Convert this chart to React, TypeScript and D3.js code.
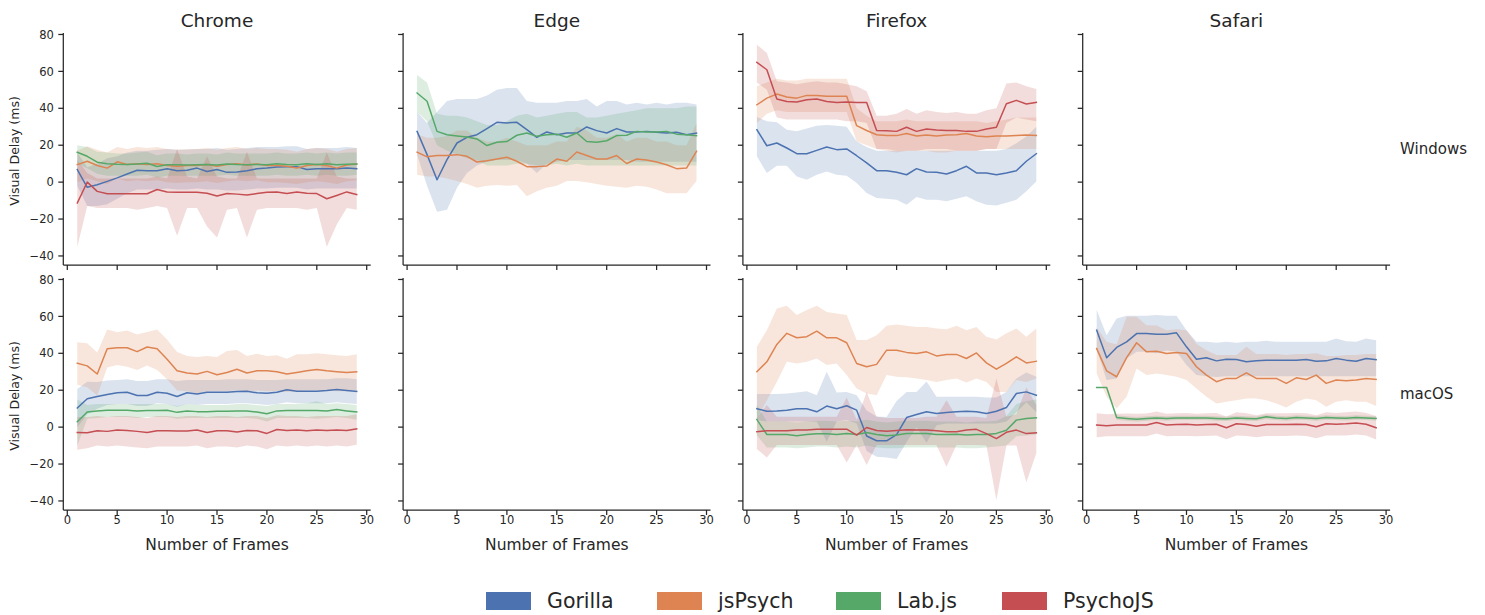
import React from "react";
import * as d3 from "d3";

// ---------------- data ----------------
const frames = [1,2,3,4,5,6,7,8,9,10,11,12,13,14,15,16,17,18,19,20,21,22,23,24,25,26,27,28,29];
const browsers = ["Chrome", "Edge", "Firefox", "Safari"];
const systems = ["Windows", "macOS"];
const frameworks = ["Gorilla", "jsPsych", "Lab.js", "PsychoJS"];
const palette = ["#4C72B0", "#DD8452", "#55A868", "#C44E52"];
const yTicks = [-40, -20, 0, 20, 40, 60, 80];
const xTicks = [0, 5, 10, 15, 20, 25, 30];

// Chrome / Windows
const chromeWinGorilla = [6.8,-2.8,-1.4,0.4,2.3,4.4,6.4,6.2,6.2,7.3,6.2,6.4,7.6,5.8,6.8,5.3,5.5,6.2,7.2,7.6,8.2,8.4,8.4,6.8,7.3,7.3,7.2,7.6,7.3];
const chromeWinGorillaLo = [-2,-13,-13,-12,-9,-6,-4,-4,-4,-3.5,-4,-4,-3.5,-4,-4,-4.5,-4.5,-4,-3.5,-3.5,-3,-3,-3,-4,-3.5,-3.5,-3.5,-3.5,-3.5];
const chromeWinGorillaHi = [16,8,10,13,14,16,17,17,17.5,18,17.5,17.5,18,18,18.5,17.5,18,18.5,19,19,19,19.5,19.5,18,18.5,18.5,18.5,19,18.5];
const chromeWinJsPsych = [9.5,11.3,9,7.6,11,9.5,10,9.5,10,9,8.6,9,9,9.5,8.6,9.5,10,9.3,9.8,9,9,8.6,7.6,9,9.5,9,7.6,9.3,9.8];
const chromeWinJsPsychLo = [0,2,0.5,-1,2,0.5,1,0.5,1,0,-0.5,0,0,0.5,-0.5,0.5,1,0.5,1,0,0,-0.5,-1,0,0.5,0,-1,0.5,1];
const chromeWinJsPsychHi = [17,19.5,17.5,16,19,18,19,18.5,19,18,17.5,18,18,18.5,17.5,18.5,19,18,18.5,18,18,17.5,16.5,18,18.5,18,16.5,18,18.5];
const chromeWinLabjs = [16.2,14,10.8,10,9.7,9.6,9.8,10.2,8.5,9.4,9.4,9.3,9.4,9.5,9.3,9.8,9.5,9.4,9.6,9.4,10,9.5,9.4,10,9.5,10,9.4,9.7,9.8];
const chromeWinLabjsLo = [10,7.5,4.5,3.5,3.5,3.5,3.5,4,2.5,3.5,3.5,3.5,3.5,3.5,3.5,4,3.5,3.5,3.5,3.5,4,3.5,3.5,4,3.5,4,3.5,3.5,4];
const chromeWinLabjsHi = [20,19,16.5,16,15.5,15.5,16,16.5,14.5,15.5,15.5,15,15.5,15.5,15,16,15.5,15.5,15.5,15.5,16,15.5,15.5,16,15.5,16,15.5,16,16];
const chromeWinPsychojs = [-11.3,0,-5,-6.3,-6.3,-6.3,-6.3,-6.3,-4,-5.3,-5.5,-5.5,-5.5,-6,-7.5,-6.2,-6.5,-7,-6.2,-5.5,-5.3,-6.2,-5.3,-6,-6.2,-9,-7.2,-5.3,-6.7];
const chromeWinPsychojsLo = [-35,-13,-14,-14,-14,-14,-15,-14,-13,-14,-29,-14,-14,-24,-30,-15,-14,-30,-15,-14,-14,-14,-14,-15,-14,-35,-23,-14,-15];
const chromeWinPsychojsHi = [12,5,2,2,2,2,2,2,3,2,18,3,2,14,3,2,2,16.5,2,2,2,2,2,2,2,16,3,2,2];

// Edge / Windows
const edgeWinGorilla = [27.5,14.9,1.3,12.2,21.2,24.3,25.7,29,32.4,32.1,32.4,28.4,24.3,27.2,25.7,26.6,26.6,29.9,27.9,26.6,29,27.2,27.2,27.5,27,26.6,27,25.7,26.6];
const edgeWinGorillaLo = [15,-2,-16,-15,-3,5,9,11,12,12,12,10,5,10,11,12,12,12,12,12,12,12,11,11,11,11,11,11,11];
const edgeWinGorillaHi = [38,32,38,44,45,45,45,47,50,51,51,44,43,43,43,44,44,45,41,44,44,42,43,42,43,42,43,43,42];
const edgeWinJsPsych = [16.2,13.7,14.4,14.4,14.9,14,10.9,11.6,12.5,13.5,11.3,8.4,8.4,8.8,12.5,11.3,16.3,14.4,12.5,12.5,14.4,10.1,12.5,12,10.9,9.4,7.3,7.6,16.7];
const edgeWinJsPsychLo = [4,3,3,2,0.6,-1,-3,-2,-1.5,-2,-1.5,-7.7,-5,-3,-2,0.6,0.6,0,-1,-2,-2.5,-3,-2,-2.5,-4,-6,-6,-6,0.6];
const edgeWinJsPsychHi = [26,24,24,25,28,28,24,22,22,24,22,20,20,20,22,22,30,28,24,24,26,22,24,24,22,22,20,20,32];
const edgeWinLabjs = [48.3,43.8,27.5,25.7,25,24.4,23.4,19.8,21.6,22,25.4,26.6,24.8,25.7,26,24.3,26.6,22,21.6,22.4,25.2,25.4,27.5,27.2,27.2,27.5,26,25.7,25.2];
const edgeWinLabjsLo = [38,33,20,17,15,13,12,9,9,9,10,10,9,9,10,9,10,9,9,9,9,9,9,9,9,9,9,9,9];
const edgeWinLabjsHi = [58,54,37,36,36,35,33,31,31,33,36,37,35,36,37,38,38,35,35,36,37,38,39,40,40,40,40,41,41];

// Firefox / Windows
const firefoxWinGorilla = [28.4,19.7,21.2,18.5,15.4,15.4,17.2,19,17.6,18,14.3,10.4,6.2,6.2,5.3,4,7.3,5.5,5.3,4.4,6.2,8.6,5,5,4,5,6.2,11.3,15.4];
const firefoxWinGorillaLo = [14,4.9,8.9,8.9,3.1,1.3,4,5.8,4,3.5,-0.5,-5.9,-8.6,-9,-9.5,-12.3,-8,-9.5,-9.5,-10.4,-9,-7.7,-10.4,-12.3,-12.7,-11.2,-9.5,-5,0.4];
const firefoxWinGorillaHi = [35.3,33,32.5,28.4,27.5,29,30.5,31,30.5,30,22,19,17,17,17,17,17,17,17,17,17,17,17,17,17,18,21,24.7,30];
const firefoxWinJsPsych = [41.9,45.5,47.7,46.1,45.5,47,47,46.5,46.5,46.5,30.6,28,25.7,25.2,25.2,26.3,25,25.5,25,25.5,25.7,26.3,25,24.6,25,25,25.2,25.5,25.3];
const firefoxWinJsPsychLo = [32,37,39,38,38,38,38,38,38,38,22,20,18,17,16,17,17,17,16,16,17,17,17,18,18,18,18,18,18];
const firefoxWinJsPsychHi = [52,54,56,55,55,56,56,56,56,56,40,36,33,33,33,34,33,33,33,33,33,33,33,32,33,34,35,35,35];
const firefoxWinPsychojs = [64.9,60.9,45,43.7,43.4,44.6,45,43.7,43.2,43.4,43.2,43.2,28,27.8,27.5,29.7,27.5,28.8,28.2,28,28,27.5,27.5,28.8,29.7,42.5,44.3,42.3,43.2];
const firefoxWinPsychojsLo = [54,50,35,34,34,34,34,34,34,33,33,32,18,18,17,17,17,18,18,18,17,17,17,18,18,32,35,34,33];
const firefoxWinPsychojsHi = [74.5,70,54.6,54,53,54,54.6,54,54,53,52,49.2,36,36,37,39.6,37,39,38,37.5,38,37,37,39,40,53.4,54,52,50.5];

// Chrome / macOS
const chromeMacGorilla = [10.4,15.4,16.6,17.7,18.6,18.9,17.1,17.1,18.9,18.4,16.6,18.6,18,18.9,18.9,18.9,19.3,19.5,18.6,18.4,18.9,20.2,19.5,19.5,19.5,19.8,20.4,19.8,19.3];
const chromeMacGorillaLo = [0,7,10,12,12.5,12.5,11.5,11.5,13,12.5,11,12.5,12,12.5,12.5,12.5,13,13,12.5,12,12.5,13.5,13,13,13,13,13.5,13,12.5];
const chromeMacGorillaHi = [20.7,24.6,24.5,25.2,25.5,26,25,25,26,26,25,25.5,25.5,25.5,25.5,26,26,26,25.5,25.5,25.5,26,26,26,26,26,26.5,26.5,26];
const chromeMacJsPsych = [34.6,33.2,28.8,42.5,43,43,40.9,43.4,42.5,36.8,30.5,29.3,28.8,30.2,28.4,29.6,31.4,29.3,30.5,30.5,30,28.8,29.6,30.5,31.2,30.5,30,29.6,30];
const chromeMacJsPsychLo = [22.9,21.6,17.1,32.3,33.6,32.7,31,33.4,31,26,19.8,19.5,18.4,19.5,19.5,19.5,20,19.5,19.8,19.5,19.5,19,19.5,19.8,20,19.8,19.5,19.5,19.8];
const chromeMacJsPsychHi = [46,45.4,40.4,52.9,51.4,52.3,50.2,51.6,52.9,47.5,40.7,38.6,38,38.6,38,41.3,41.8,38.6,39.8,38.6,39,37,39.5,39.5,40,39.5,39,38.6,39.5];
const chromeMacLabjs = [2.9,8.2,8.8,9.1,9.1,9.1,8.8,9,9,9.1,8,8.8,8.4,8.4,8.6,8.6,8.8,8.8,8.2,7.3,8.8,9,9,9,9,8.8,9.5,8.8,8.2];
const chromeMacLabjsLo = [-10,4.5,5,5.5,5.5,5.5,5,5.5,5.5,5.5,4.5,5,5,5,5,5,5,5,4.5,3,5,5,5,5,4.5,5,5.5,5,4];
const chromeMacLabjsHi = [15,12,12.5,12.5,12.5,12.5,12.5,12.5,12.5,12.5,11.5,12.5,12,12,12,12,12.5,12.5,12,11.5,12.5,12.5,12.5,13,14,12.5,13,12.5,12];
const chromeMacPsychojs = [-2.9,-3,-2,-2.3,-1.6,-1.8,-2.3,-2.9,-2,-2,-2.1,-2.1,-1.6,-2.9,-2,-2,-2.7,-1.8,-2,-3.4,-1.3,-1.8,-1.6,-2,-1.6,-1.8,-1.6,-1.8,-0.9];
const chromeMacPsychojsLo = [-12.3,-11.5,-10,-10.5,-10,-10.5,-11,-11.5,-10.5,-10.5,-10.5,-10.5,-10,-11.5,-10.5,-10.5,-11,-10,-10.5,-12,-10,-10.5,-10,-10.5,-10,-10.5,-10,-10.5,-9.5];
const chromeMacPsychojsHi = [5.5,5.5,6,5.5,6,6,5.5,5,6,6,5.5,6,6,5.5,6,6,5.5,6,6,5,6.5,6,6,5.5,6,6,6,6,7];

// Firefox / macOS
const firefoxMacGorilla = [10,8.6,8.8,9.2,10,10,8.3,11.4,10,11.6,9.2,-4.8,-7.4,-7.4,-4,5.2,6.8,8.3,7.4,7.9,8.3,8.6,8.3,7.4,8.6,10.6,18.2,19.1,17.3];
const firefoxMacGorillaLo = [3.8,3,3,3,3,3,3,-7.9,3,3.8,2,-13,-16,-16.5,-17.3,-8,0,-8.5,1,2,2,2,2,2,2,3,8,13.5,8];
const firefoxMacGorillaHi = [17.9,17.9,17.9,18.2,18.8,19.5,17.3,30,18.8,19.1,17.3,9,5.7,5.5,14.1,19.1,19.1,24.7,16.4,16.4,16.4,16.4,16.4,16,16,19.1,26.4,29.6,27.3];
const firefoxMacJsPsych = [30,35.4,44.8,50.8,48.4,49,52,48.4,48.4,45.7,34.5,32.7,34,41.7,41.7,40.5,39.9,40.8,38.6,39.4,39.4,37.2,40.2,34.8,31.4,34.5,38.1,34.8,35.7];
const firefoxMacJsPsychLo = [4.6,14.6,24.5,35.4,34.5,35.4,37.2,33.6,34.5,28.2,20.9,18.2,17.3,28.2,27.3,27,26.4,25.5,24.5,25.5,26.4,24.2,26.4,24.5,19.1,19.1,25.5,24.5,26.4];
const firefoxMacJsPsychHi = [43.5,52.5,64.3,65.7,60.7,63.4,65.7,62.4,61.5,60.7,47.2,47.2,49.8,54.9,55.6,54.9,54.3,54.3,53.4,53,54.9,52.5,54.3,49,47.5,50.8,53.4,49,53.4];
const firefoxMacLabjs = [4.1,-4,-4,-4,-4.7,-4,-3.6,-3.6,-4,-3.4,-4,-2.9,-4,-4.7,-4.3,-3.4,-3.4,-3.4,-4,-4,-3.8,-4.3,-4,-4,-3.4,-1.7,3.8,4.7,5];
const firefoxMacLabjsLo = [-4.4,-11,-11,-11,-11.5,-11,-10.5,-10.5,-11,-10.5,-11,-10,-11,-11.5,-11.5,-11,-11,-11,-11,-11,-11,-11.5,-11.5,-11,-10.5,-10,-5,-4.5,-4];
const firefoxMacLabjsHi = [12,3,3,3,2.5,3,3.5,3.5,3,3.5,3,4,3,2.5,3,3.5,3.5,3.5,3,3,3,2.5,3,3,3.5,6,12.5,14,15];
const firefoxMacPsychojs = [-2.5,-2,-2,-2,-1.6,-1.6,-1.2,-1.2,-1.2,-1.1,-4.3,-0.2,-1.8,-2.2,-1.8,-1.4,-1.6,-1.6,-2,-2.5,-2.5,-1.6,-1.2,-3.5,-6.2,-2.8,-1.6,-3.5,-3.1];
const firefoxMacPsychojsLo = [-11.8,-16.5,-9.7,-9.7,-9.7,-9.7,-9.7,-9.7,-9.7,-19.1,-9.7,-20.5,-9.7,-9.7,-9.7,-9.7,-9.7,-9.7,-9.7,-21.5,-9.7,-9.7,-9.7,-10,-39.5,-10,-10,-29.8,-14.2];
const firefoxMacPsychojsHi = [5,12,5.6,5.6,5.6,5.6,5.6,5.6,5.6,16,4,19,5.6,5,5,5,5,5.6,5.6,14.5,5.6,5.6,5.6,5,26.4,5.6,7,21.5,12];

// Safari / macOS
const safariMacGorilla = [52.5,37.6,43.2,46.2,50.7,50.7,50.3,50.3,51.1,43.5,36.8,37.6,35.9,36.8,36.6,35.4,35.9,36.3,36.3,36.3,36.3,36.6,35.7,35.9,37.2,36.3,35.7,37.2,36.6];
const safariMacGorillaLo = [42,25.5,26.4,37.2,40.8,40.8,40,41.5,40.8,33.6,28.2,27.6,27.2,27.5,27.5,27.5,27.5,27.5,27.5,27.5,27.5,27.5,27.5,27.5,27.5,27.5,27.5,27.5,27.5];
const safariMacGorillaHi = [63.4,49.8,58.9,60.3,60.3,60.3,60.7,60.3,60.3,52.5,46.2,46.2,45.7,46.2,45.7,46.2,46.2,46.8,46.2,46.2,46.2,46.2,46.2,46.2,48,46.5,46.2,48,47.1];
const safariMacJsPsych = [42.6,30.5,27.3,37.7,45.7,40.8,41.1,39.9,40.4,39.9,32.7,28.2,24.6,26.4,26.4,29.4,26.4,26.4,26.4,23.7,26.7,25.8,28.2,23.7,25.5,25.1,25.5,26.4,25.8];
const safariMacJsPsychLo = [29.1,16.4,10.1,16.4,31.8,28.2,29,28.2,27.3,25.5,20.9,16.4,12.8,13.7,14.6,15.5,15.5,14.6,12.8,10.7,13.7,15.5,14.6,11.1,13.7,14.6,13.7,13.7,11.4];
const safariMacJsPsychHi = [54,46.2,44.8,59.8,59.8,55.2,55,52.5,53,52.5,45,41.7,39.1,39.1,39.1,43.5,39.6,39.6,39.6,39.1,39.6,39.6,40,38.6,38.6,39.1,39.1,39.6,39.6];
const safariMacLabjs = [21.5,21.5,5.2,4.7,4.3,4.7,5,4.7,5,5,5,5,4.7,4.5,5,4.7,4.5,5.6,5,4.7,5.2,5,4.7,5.2,5,4.8,5.2,5,4.7];
const safariMacLabjsLo = [21.5,21.5,4,3.5,3,3.5,3.8,3.5,3.8,3.8,3.8,3.8,3.5,3.3,3.8,3.5,3.3,4.4,3.8,3.5,4,3.8,3.5,4,3.8,3.6,4,3.8,3.5];
const safariMacLabjsHi = [21.5,21.5,6.4,5.9,5.5,5.9,6.2,5.9,6.2,6.2,6.2,6.2,5.9,5.7,6.2,5.9,5.7,6.8,6.2,5.9,6.4,6.2,5.9,6.4,6.2,6,6.4,6.2,5.9];
const safariMacPsychojs = [1.1,0.8,1.1,1.2,1.1,1.2,2.5,1.1,1.4,1.6,1.1,1.4,1.6,-0.3,1.8,1.4,0.5,1.4,1.4,1.4,1.6,1.4,0.2,1.8,1.6,1.8,2.3,1.6,-0.3];
const safariMacPsychojsLo = [-5.5,-5,-5,-5,-5,-5,-3.5,-5,-4.8,-4.8,-5,-4.8,-4.6,-6.5,-4.5,-4.8,-5.5,-4.8,-4.8,-4.8,-4.6,-4.8,-6,-4.5,-4.6,-4.5,-4,-4.6,-6.7];
const safariMacPsychojsHi = [7.5,7,7.3,7.4,7.2,7.4,8.5,7.2,7.5,7.6,7.2,7.5,7.7,5.8,8,7.5,6.5,7.5,7.5,7.5,7.7,7.5,6.4,8,7.7,8,8.5,7.7,6];

type Series = { fw: number; mean: number[]; lo: number[]; hi: number[] };
type Panel = { col: number; row: number; series: Series[] };

const panels: Panel[] = [
  { col: 0, row: 0, series: [
    { fw: 0, mean: chromeWinGorilla, lo: chromeWinGorillaLo, hi: chromeWinGorillaHi },
    { fw: 1, mean: chromeWinJsPsych, lo: chromeWinJsPsychLo, hi: chromeWinJsPsychHi },
    { fw: 2, mean: chromeWinLabjs, lo: chromeWinLabjsLo, hi: chromeWinLabjsHi },
    { fw: 3, mean: chromeWinPsychojs, lo: chromeWinPsychojsLo, hi: chromeWinPsychojsHi },
  ]},
  { col: 1, row: 0, series: [
    { fw: 0, mean: edgeWinGorilla, lo: edgeWinGorillaLo, hi: edgeWinGorillaHi },
    { fw: 1, mean: edgeWinJsPsych, lo: edgeWinJsPsychLo, hi: edgeWinJsPsychHi },
    { fw: 2, mean: edgeWinLabjs, lo: edgeWinLabjsLo, hi: edgeWinLabjsHi },
  ]},
  { col: 2, row: 0, series: [
    { fw: 0, mean: firefoxWinGorilla, lo: firefoxWinGorillaLo, hi: firefoxWinGorillaHi },
    { fw: 1, mean: firefoxWinJsPsych, lo: firefoxWinJsPsychLo, hi: firefoxWinJsPsychHi },
    { fw: 3, mean: firefoxWinPsychojs, lo: firefoxWinPsychojsLo, hi: firefoxWinPsychojsHi },
  ]},
  { col: 3, row: 0, series: [] },
  { col: 0, row: 1, series: [
    { fw: 0, mean: chromeMacGorilla, lo: chromeMacGorillaLo, hi: chromeMacGorillaHi },
    { fw: 1, mean: chromeMacJsPsych, lo: chromeMacJsPsychLo, hi: chromeMacJsPsychHi },
    { fw: 2, mean: chromeMacLabjs, lo: chromeMacLabjsLo, hi: chromeMacLabjsHi },
    { fw: 3, mean: chromeMacPsychojs, lo: chromeMacPsychojsLo, hi: chromeMacPsychojsHi },
  ]},
  { col: 1, row: 1, series: [] },
  { col: 2, row: 1, series: [
    { fw: 0, mean: firefoxMacGorilla, lo: firefoxMacGorillaLo, hi: firefoxMacGorillaHi },
    { fw: 1, mean: firefoxMacJsPsych, lo: firefoxMacJsPsychLo, hi: firefoxMacJsPsychHi },
    { fw: 2, mean: firefoxMacLabjs, lo: firefoxMacLabjsLo, hi: firefoxMacLabjsHi },
    { fw: 3, mean: firefoxMacPsychojs, lo: firefoxMacPsychojsLo, hi: firefoxMacPsychojsHi },
  ]},
  { col: 3, row: 1, series: [
    { fw: 0, mean: safariMacGorilla, lo: safariMacGorillaLo, hi: safariMacGorillaHi },
    { fw: 1, mean: safariMacJsPsych, lo: safariMacJsPsychLo, hi: safariMacJsPsychHi },
    { fw: 2, mean: safariMacLabjs, lo: safariMacLabjsLo, hi: safariMacLabjsHi },
    { fw: 3, mean: safariMacPsychojs, lo: safariMacPsychojsLo, hi: safariMacPsychojsHi },
  ]},
];

// ---------------- layout ----------------
const W = 1485;
const H = 615;
const FONT = "'DejaVu Sans', 'Liberation Sans', sans-serif";
const INK = "#262626";
const plotW = 307.4;
const plotH = 232;
const col0 = 63.3;
const colStep = 339.8;
const row0 = 33;
const rowStep = 245;
const tickLen = 5;
const legendX = [486, 657, 836, 1002];

function PanelView({ p }: { p: Panel }) {
  const left = col0 + p.col * colStep;
  const top = row0 + p.row * rowStep;
  const x = d3.scaleLinear().domain([-0.4, 30.4]).range([left, left + plotW]);
  const y = d3.scaleLinear().domain([-44.9, 80.8]).range([top + plotH, top]);
  const bottom = top + plotH;

  const area = (s: Series) =>
    d3.area<number>()
      .x((_, i) => x(frames[i]))
      .y0((_, i) => y(s.lo[i]))
      .y1((_, i) => y(s.hi[i]))(s.mean) || "";
  const line = (s: Series) =>
    d3.line<number>()
      .x((_, i) => x(frames[i]))
      .y((v) => y(v))(s.mean) || "";

  return (
    <g>
      {p.series.map((s) => (
        <path key={"a" + s.fw} d={area(s)} fill={palette[s.fw]} fillOpacity={0.2} stroke="none" />
      ))}
      {p.series.map((s) => (
        <path key={"l" + s.fw} d={line(s)} fill="none" stroke={palette[s.fw]} strokeWidth={1.5} strokeLinejoin="round" strokeLinecap="square" />
      ))}
      {/* spines */}
      <line x1={left} x2={left} y1={top} y2={bottom} stroke={INK} strokeWidth={1.25} />
      <line x1={left} x2={left + plotW} y1={bottom} y2={bottom} stroke={INK} strokeWidth={1.25} />
      {/* y ticks */}
      {yTicks.map((t) => (
        <g key={"y" + t}>
          <line x1={left - tickLen} x2={left} y1={y(t)} y2={y(t)} stroke={INK} strokeWidth={1.25} />
          {p.col === 0 && (
            <text x={left - 9.5} y={y(t)} dy="0.36em" textAnchor="end" fontSize={11.5} fill={INK} fontFamily={FONT}>
              {t < 0 ? "\u2212" + Math.abs(t) : String(t)}
            </text>
          )}
        </g>
      ))}
      {/* x ticks */}
      {xTicks.map((t) => (
        <g key={"x" + t}>
          <line x1={x(t)} x2={x(t)} y1={bottom} y2={bottom + tickLen} stroke={INK} strokeWidth={1.25} />
          {p.row === 1 && (
            <text x={x(t)} y={bottom + 13.5} textAnchor="middle" fontSize={11.5} fill={INK} fontFamily={FONT}>
              {t}
            </text>
          )}
        </g>
      ))}
      {p.row === 0 && (
        <text x={left + plotW / 2} y={top - 6.5} textAnchor="middle" fontSize={18.5} fill={INK} fontFamily={FONT}>
          {browsers[p.col]}
        </text>
      )}
      {p.row === 1 && (
        <text x={left + plotW / 2} y={bottom + 39.5} textAnchor="middle" fontSize={15.5} fill={INK} fontFamily={FONT}>
          Number of Frames
        </text>
      )}
      {p.col === 0 && (
        <text
          transform={`translate(${14},${top + plotH / 2 + 2}) rotate(-90)`}
          textAnchor="middle"
          dy="0.36em"
          fontSize={12.5}
          fill={INK}
          fontFamily={FONT}
        >
          Visual Delay (ms)
        </text>
      )}
      {p.col === 3 && (
        <text x={1400} y={top + plotH / 2} dy="0.36em" fontSize={15} fill={INK} fontFamily={FONT}>
          {systems[p.row]}
        </text>
      )}
    </g>
  );
}

export default function App() {
  return (
    <svg width={W} height={H} style={{ position: "absolute", left: 0, top: 0, background: "#fff" }}>
      <rect width={W} height={H} fill="#fff" />
      {panels.map((p) => (
        <PanelView key={p.row + "-" + p.col} p={p} />
      ))}
      {frameworks.map((f, i) => (
        <g key={f}>
          <rect x={legendX[i]} y={592} width={45} height={18} fill={palette[i]} />
          <text x={legendX[i] + 61} y={601} dy="0.36em" fontSize={20.5} fill={INK} fontFamily={FONT}>
            {f}
          </text>
        </g>
      ))}
    </svg>
  );
}
